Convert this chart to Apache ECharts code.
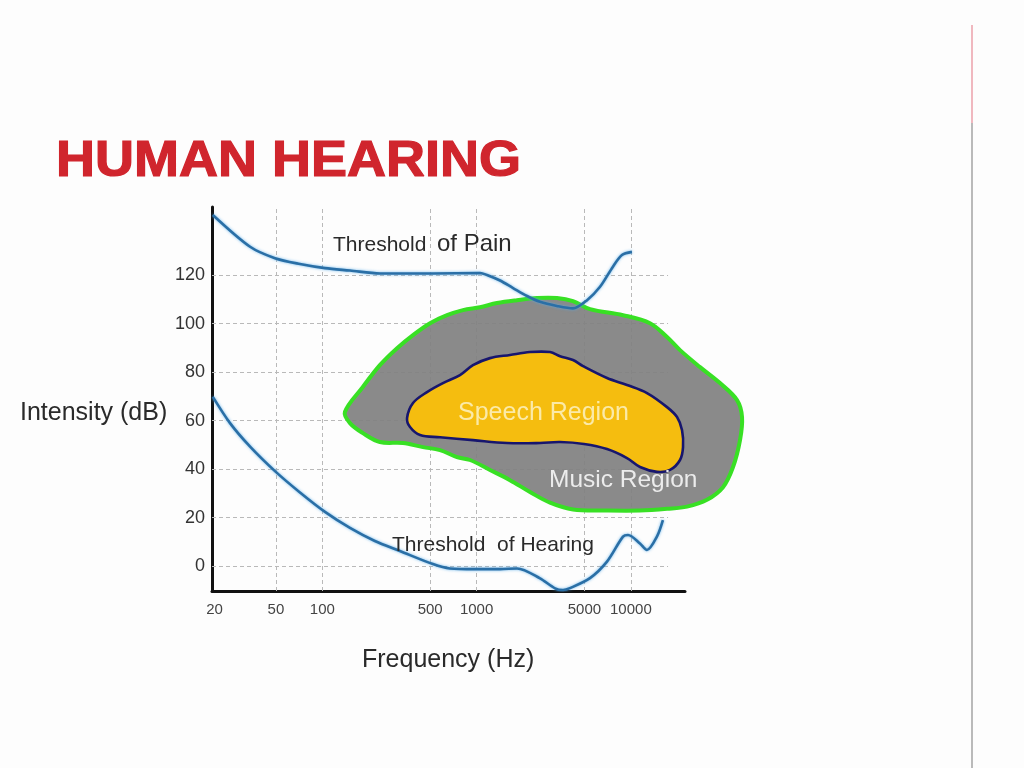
<!DOCTYPE html>
<html>
<head>
<meta charset="utf-8">
<script src="https://cdn.jsdelivr.net/npm/echarts@6/dist/echarts.min.js"></script>
<style>
html,body{margin:0;padding:0;background:#fdfdfd;}
#c{width:1024px;height:768px;}
</style>
</head>
<body>
<div id="c"></div>
<script>
// ---- data (frequency in Hz, intensity in dB) ----
const freqTicks = [20, 50, 100, 500, 1000, 5000, 10000];
const dbTicks = [0, 20, 40, 60, 80, 100, 120];

const painFreq = [19.5, 34, 49.3, 71.6, 104, 151, 237, 521, 1052, 1167, 1419, 1722, 2123, 2577, 3313, 4207, 5200, 6310, 7650, 8750, 10160];
const painDb   = [144.8, 131.7, 127.0, 124.6, 122.9, 121.9, 120.7, 120.7, 120.9, 120.1, 117.8, 114.7, 111.4, 109.0, 107.3, 106.3, 109.7, 115.2, 123.5, 128.3, 129.6];

const hearFreq = [19.5, 25.2, 34, 49.3, 71.6, 104, 151, 219, 318, 521, 671, 975, 1419, 1828, 2576, 3222, 3631, 4030, 5430, 7000, 8890, 9580, 11450, 12710, 14750, 16130];
const hearDb   = [69.8, 59.0, 49.3, 39.2, 30.4, 22.4, 15.8, 10.4, 6.3, 0.9, -0.9, -1.2, -1.2, -0.9, -5.0, -9.1, -9.8, -9.0, -4.9, 1.9, 12.2, 12.9, 9.4, 6.7, 12.2, 19.0];

const musicFreq = [140, 183, 236, 305, 387, 499, 643, 816, 1052, 1356, 1827, 2463, 3320, 4215, 5435, 8892, 13305, 17150, 20820, 28070, 37830, 48760, 52540, 50990, 45930, 39560, 31150, 23110, 17150, 11460, 7000, 4215, 2990, 2218, 1646, 1221, 906, 746, 579, 449, 333, 236, 183, 151];
const musicDb   = [63.6, 73.9, 82.9, 89.9, 95.3, 100.2, 103.5, 105.6, 106.8, 108.5, 109.7, 110.6, 110.6, 109.3, 106.0, 103.5, 100.2, 94.5, 89.1, 82.1, 75.5, 68.5, 61.5, 52.0, 40.9, 32.6, 27.4, 24.6, 23.7, 23.0, 23.0, 23.4, 26.2, 30.6, 35.5, 39.7, 43.8, 45.0, 47.9, 49.1, 50.8, 51.2, 54.9, 59.0];

const speechFreq = [354, 387, 477, 605, 780, 947, 1221, 1646, 2218, 2990, 3472, 4215, 4894, 7003, 9438, 12720, 17150, 19910, 21460, 21780, 20820, 17940, 14770, 11460, 9438, 7003, 4968, 3472, 2576, 1573, 947, 579, 430, 370];
const speechDb   = [61.1, 67.3, 71.8, 75.5, 78.8, 82.9, 85.8, 87.1, 88.3, 88.3, 86.6, 85.0, 82.5, 77.6, 74.7, 71.4, 65.6, 61.5, 56.1, 49.1, 43.8, 39.7, 38.9, 40.9, 44.6, 48.3, 50.4, 51.2, 50.8, 50.8, 52.0, 53.2, 54.1, 57.4];

// ---- layout ----
const X_MIN = 1.2846, X_MAX = 4.3508;   // log10(Hz) extent of the axis
const Y_MIN = -10.2, Y_MAX = 148.1;
const X_GRID_END = 4.241;              // horizontal dashed lines stop here

const lg = f => Math.log10(f);
const toPts = (fs, ds) => fs.map((f, i) => [lg(f), ds[i]]);

const gridMarks = [
  ...freqTicks.slice(1).map(f => [{coord: [lg(f), Y_MIN]}, {coord: [lg(f), Y_MAX]}]),
  ...dbTicks.map(d => [{coord: [X_MIN, d]}, {coord: [X_GRID_END, d]}])
];

const musicPts = toPts(musicFreq, musicDb);
const speechPts = toPts(speechFreq, speechDb);

function regionSeries(pts, fill, stroke, width, z) {
  return {
    type: 'custom',
    coordinateSystem: 'cartesian2d',
    clip: false,
    silent: true,
    z: z,
    data: [pts[0]],
    renderItem: function (params, api) {
      return {
        type: 'polygon',
        shape: {points: pts.map(p => api.coord(p)), smooth: 0.35},
        style: {fill: fill, stroke: stroke, lineWidth: width}
      };
    }
  };
}

const FONT = '"Liberation Sans", Arial, sans-serif';
const txt = (text, x, y, size, color, extra) => Object.assign({
  type: 'text', x: x, y: y, z: 100,
  style: {text: text, font: size + 'px ' + FONT, fill: color, verticalAlign: 'middle', align: 'left'}
}, extra || {});

const chart = echarts.init(document.getElementById('c'), null, {renderer: 'canvas'});
chart.setOption({
  animation: false,
  backgroundColor: '#fdfdfd',
  grid: {left: 212, right: 339, top: 207, bottom: 177, containLabel: false},
  xAxis: {
    type: 'value', min: X_MIN, max: X_MAX,
    axisLine: {show: true, onZero: false, lineStyle: {color: '#111', width: 3}},
    axisTick: {show: false},
    splitLine: {show: false},
    axisLabel: {
      customValues: freqTicks.map(lg),
      formatter: v => String(Math.round(Math.pow(10, v))),
      fontSize: 15, color: '#444', margin: 11, fontFamily: FONT
    }
  },
  yAxis: {
    type: 'value', min: Y_MIN, max: Y_MAX,
    axisLine: {show: true, onZero: false, lineStyle: {color: '#111', width: 3}},
    axisTick: {show: false},
    splitLine: {show: false},
    axisLabel: {
      customValues: dbTicks,
      fontSize: 18, color: '#333', margin: 7, fontFamily: FONT
    }
  },
  series: [
    {
      type: 'line', data: [], silent: true, z: 1,
      markLine: {
        silent: true, z: 1, symbol: ['none', 'none'],
        label: {show: false},
        lineStyle: {type: [4, 3], color: '#b9b9b9', width: 1},
        emphasis: {disabled: true},
        data: gridMarks
      }
    },
    regionSeries(musicPts, 'rgba(128,128,128,0.92)', '#38e024', 4, 2),
    regionSeries(speechPts, '#f5bd0f', '#17166e', 2.6, 3),
    {
      type: 'line', z: 4, silent: true, showSymbol: false, smooth: 0.3,
      data: toPts(painFreq, painDb),
      lineStyle: {color: '#2a6fa6', width: 2.6, shadowColor: 'rgba(80,170,235,0.8)', shadowBlur: 3}
    },
    {
      type: 'line', z: 4, silent: true, showSymbol: false, smooth: 0.3,
      data: toPts(hearFreq, hearDb),
      lineStyle: {color: '#2a6fa6', width: 2.6, shadowColor: 'rgba(80,170,235,0.8)', shadowBlur: 3}
    }
  ],
  graphic: [
    txt('HUMAN HEARING', 56, 162, 50, '#d0252d', {style: {text: 'HUMAN HEARING', font: 'bold 50px ' + FONT, fill: '#d0252d', stroke: '#d0252d', lineWidth: 1.2, verticalAlign: 'middle', align: 'left'}, scaleX: 1.08}),
    txt('Threshold', 333, 245, 21, '#2a2a2a'),
    txt('of Pain', 437, 244, 24, '#2a2a2a'),
    txt('Threshold  of Hearing', 392, 545, 21, '#2a2a2a'),
    txt('Speech Region', 458, 413, 25, '#fbeaa8'),
    txt('Music Region', 549, 480, 24.5, '#ececec'),
    txt('Intensity (dB)', 20, 413, 25, '#2a2a2a'),
    txt('Frequency (Hz)', 362, 660, 25, '#2a2a2a'),
    {type: 'line', z: 100, shape: {x1: 972, y1: 25, x2: 972, y2: 123}, style: {stroke: '#eba1aa', lineWidth: 1.5}},
    {type: 'line', z: 100, shape: {x1: 972, y1: 123, x2: 972, y2: 768}, style: {stroke: '#a3a3a3', lineWidth: 1.5}}
  ]
});
</script>
</body>
</html>
